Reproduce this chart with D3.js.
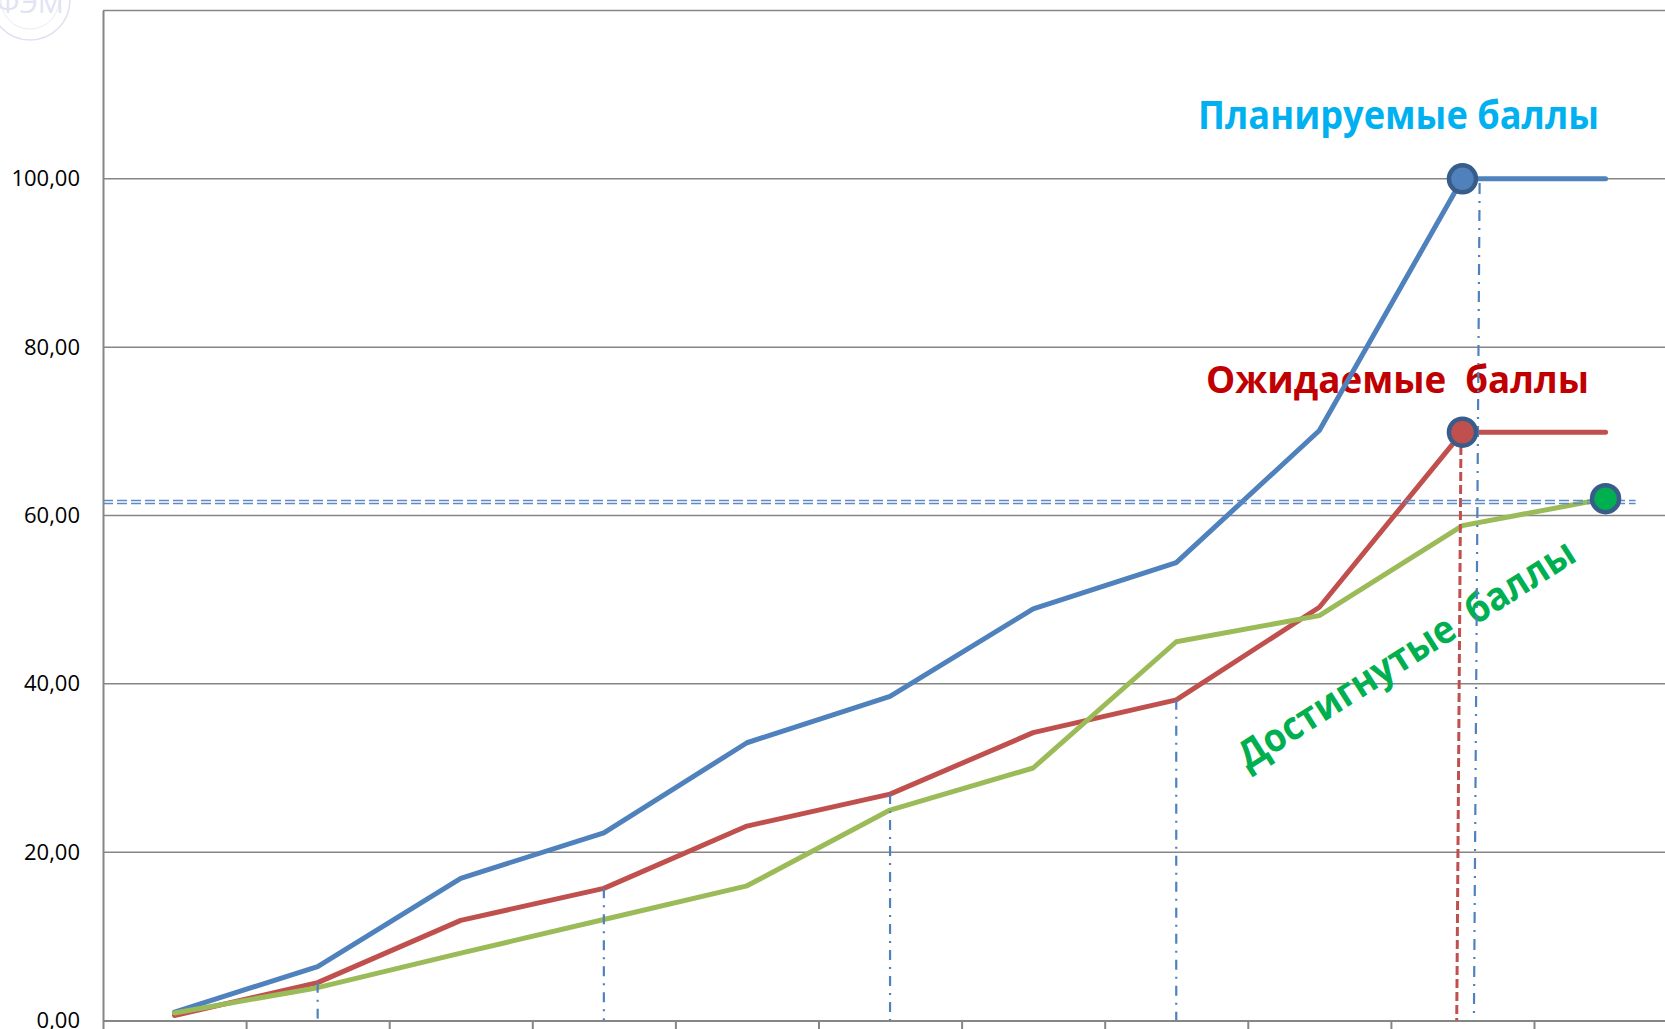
<!DOCTYPE html>
<meta charset="utf-8">
<style>
    body { margin: 0; background: #fff; overflow: hidden; }

    .grid line {
        stroke: #868686;
        stroke-width: 1.5px;
    }

    .yaxis path, .xaxis path, .xaxis line {
        stroke: #868686;
        stroke-width: 2px;
    }

    .yaxis text {
        font-family: "Open Sans", sans-serif;
        font-size: 22px;
        fill: #000;
    }

    .note {
        font-family: "Open Sans", sans-serif;
        font-weight: bold;
    }
</style>
<svg width="1665" height="1029"></svg>
<script src="https://d3js.org/d3.v7.min.js"></script>
<script>

    // stages (no labels shown on the axis)
    var stages = [1, 2, 3, 4, 5, 6, 7, 8, 9, 10, 11];

    // Планируемые / Ожидаемые / Достигнутые баллы
    var planned  = [1.0, 6.4, 16.9, 22.3, 33.0, 38.5, 48.9, 54.4, 70.1, 100.0, 100.0];
    var expected = [0.6, 4.5, 11.9, 15.7, 23.1, 26.9, 34.2, 38.1, 49.1, 69.9, 69.9];
    var achieved = [0.9, 3.9, 8.0, 12.0, 16.0, 25.0, 30.0, 45.0, 48.1, 58.8, 62.0];

    var yTicks = [0, 20, 40, 60, 80, 100];
    var yGrid = [20, 40, 60, 80, 100, 120];

    // guide lines, in stage units / score units
    var dropStages = [1, 3, 5, 7];              // dash-dot drops down from "expected"
    var expectedDrop = [[9.49, 69.8], [9.46, 0]];
    var plannedDrop = [[9.62, 99.5], [9.58, 0]];
    var achievedLevel = [[0, 61.6], [10.71, 61.6]];

    var svg = d3.select("svg"),
        plotLeft = 103,
        plotTop = 10.5,
        plotBottom = 1020.5,
        bandW = 143.1;

    var x = d3.scaleLinear()
        .domain([0, stages.length])
        .range([plotLeft, plotLeft + bandW * stages.length]);

    var y = d3.scaleLinear()
        .domain([0, 120])
        .range([plotBottom, plotTop]);

    function cx(d, i) { return x(i + 0.5); }

    // faint logo in the corner
    var logo = svg.append("g").attr("opacity", 0.75);
    logo.append("circle")
        .attr("cx", 30).attr("cy", 0).attr("r", 40)
        .attr("fill", "none").attr("stroke", "#d3d7ee").attr("stroke-width", 1.5);
    logo.append("circle")
        .attr("cx", 30).attr("cy", 0).attr("r", 29)
        .attr("fill", "none").attr("stroke", "#e3e6f4").attr("stroke-width", 1);
    logo.append("text")
        .attr("x", 30).attr("y", 13)
        .attr("text-anchor", "middle")
        .style("font-family", "Open Sans, sans-serif")
        .style("font-size", "29px")
        .attr("fill", "#d6daef")
        .text("ФЭМ");

    // gridlines
    svg.append("g")
        .attr("class", "grid")
        .selectAll("line")
        .data(yGrid)
        .enter().append("line")
        .attr("x1", plotLeft)
        .attr("x2", x(stages.length))
        .attr("y1", function(d) { return y(d); })
        .attr("y2", function(d) { return y(d); });

    // y axis
    var comma = d3.format(".2f");
    svg.append("g")
        .attr("class", "yaxis")
        .attr("transform", "translate(" + plotLeft + ",0)")
        .call(d3.axisLeft(y)
            .tickValues(yTicks)
            .tickSize(0)
            .tickPadding(23)
            .tickFormat(function(d) { return comma(d).replace(".", ","); }))
        .call(function(g) { g.selectAll(".tick line").remove(); });

    // x axis, ticks only
    svg.append("g")
        .attr("class", "xaxis")
        .attr("transform", "translate(0," + plotBottom + ")")
        .call(d3.axisBottom(x)
            .tickValues(d3.range(0, stages.length + 1))
            .tickSize(10)
            .tickSizeOuter(0)
            .tickFormat(""));

    // annotations
    svg.append("text")
        .attr("class", "note")
        .attr("x", 1198).attr("y", 129)
        .attr("textLength", 401).attr("lengthAdjust", "spacingAndGlyphs")
        .style("font-size", "40px")
        .attr("fill", "#00B0F0")
        .text("Планируемые баллы");

    svg.append("text")
        .attr("class", "note")
        .attr("x", 1206).attr("y", 393)
        .attr("textLength", 383).attr("lengthAdjust", "spacingAndGlyphs")
        .style("font-size", "38px")
        .style("white-space", "pre")
        .attr("fill", "#C00000")
        .text("Ожидаемые  баллы");

    svg.append("text")
        .attr("class", "note")
        .attr("transform", "translate(1405,652) rotate(-32.5)")
        .attr("text-anchor", "middle")
        .attr("dominant-baseline", "central")
        .attr("textLength", 392).attr("lengthAdjust", "spacingAndGlyphs")
        .style("font-size", "39px")
        .style("white-space", "pre")
        .attr("fill", "#00B050")
        .text("Достигнутые  баллы");

    // series lines
    var line = d3.line()
        .x(cx)
        .y(function(d) { return y(d); });

    var series = [
        { values: planned, color: "#4F81BD" },
        { values: expected, color: "#C0504D" },
        { values: achieved, color: "#9BBB59" }
    ];

    svg.append("g")
        .selectAll("path")
        .data(series)
        .enter().append("path")
        .attr("d", function(d) { return line(d.values); })
        .attr("fill", "none")
        .attr("stroke", function(d) { return d.color; })
        .attr("stroke-width", 5)
        .attr("stroke-linejoin", "round")
        .attr("stroke-linecap", "round");

    // guide lines
    var guides = svg.append("g");

    guides.selectAll("line.drop")
        .data(dropStages)
        .enter().append("line")
        .attr("class", "drop")
        .attr("x1", function(d) { return x(d + 0.5); })
        .attr("x2", function(d) { return x(d + 0.5); })
        .attr("y1", function(d) { return y(expected[d]); })
        .attr("y2", plotBottom)
        .attr("stroke", "#4F81BD")
        .attr("stroke-width", 2.2)
        .attr("stroke-dasharray", "10,7,2,7");

    var seg = d3.line()
        .x(function(d) { return x(d[0]); })
        .y(function(d) { return y(d[1]); });

    guides.append("path")
        .attr("d", seg(plannedDrop))
        .attr("fill", "none")
        .attr("stroke", "#4F81BD")
        .attr("stroke-width", 2.2)
        .attr("stroke-dasharray", "11,7,2,7");

    guides.append("path")
        .attr("d", seg(expectedDrop))
        .attr("fill", "none")
        .attr("stroke", "#C0504D")
        .attr("stroke-width", 3)
        .attr("stroke-dasharray", "9,4");

    [-1.5, 1.5].forEach(function(off) {
        guides.append("path")
            .attr("d", seg(achievedLevel))
            .attr("transform", "translate(0," + off + ")")
            .attr("fill", "none")
            .attr("stroke", "#5f8ac6")
            .attr("stroke-width", 1.5)
            .attr("stroke-dasharray", "10,4");
    });

    // end markers
    var markers = [
        { i: 9, v: planned[9], fill: "#4F81BD" },
        { i: 9, v: expected[9], fill: "#C0504D" },
        { i: 10, v: achieved[10], fill: "#00B050" }
    ];

    svg.append("g")
        .selectAll("circle")
        .data(markers)
        .enter().append("circle")
        .attr("cx", function(d) { return x(d.i + 0.5); })
        .attr("cy", function(d) { return y(d.v); })
        .attr("r", 13.5)
        .attr("fill", function(d) { return d.fill; })
        .attr("stroke", "#385D8A")
        .attr("stroke-width", 4.5);

</script>
